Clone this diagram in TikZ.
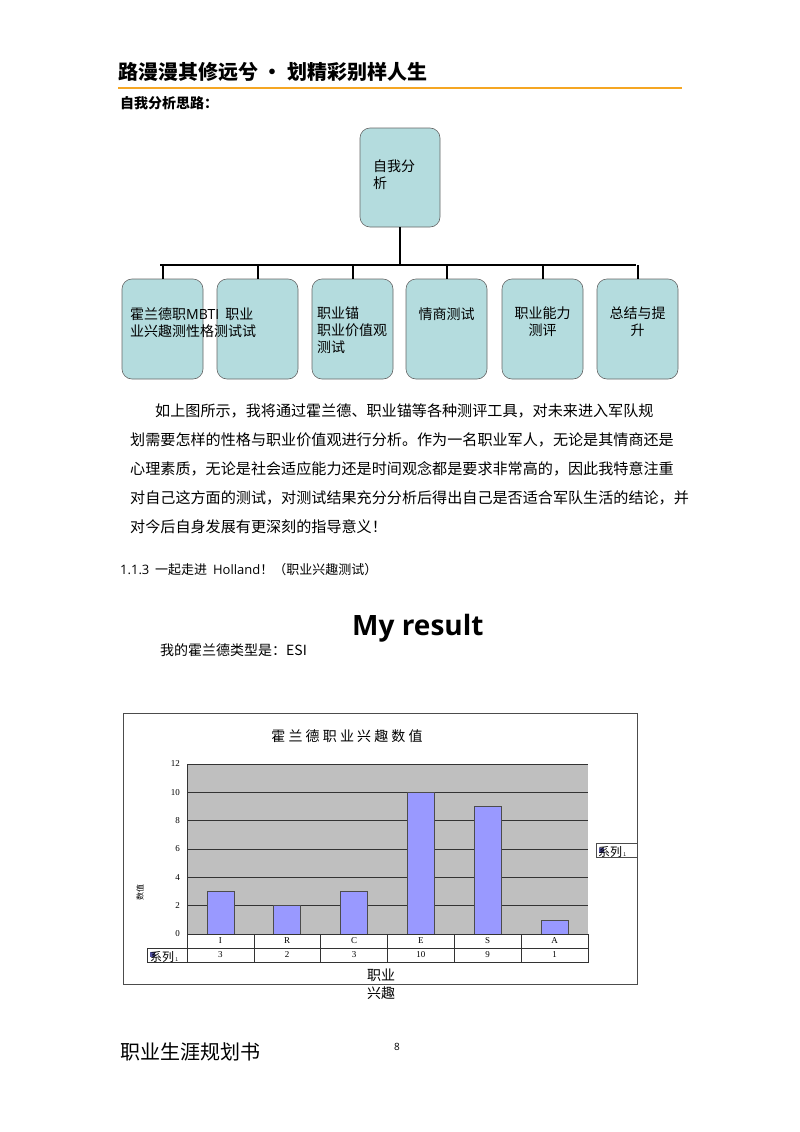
\documentclass[tikz,border=0pt]{standalone}
\usepackage{fontspec}
\setmainfont{Noto Sans CJK SC}
\newfontfamily\serifnum{Liberation Serif}
\newfontfamily\latin{Open Sans}
\definecolor{boxfill}{RGB}{180,220,222}
\definecolor{barfill}{RGB}{153,153,255}
\definecolor{orng}{RGB}{245,166,35}
\definecolor{lgsq}{RGB}{80,80,160}
\begin{document}
\begin{tikzpicture}[x=1pt,y=-1pt,
 box/.style={draw=gray!80!black,fill=boxfill,rounded corners=10pt,line width=0.6pt},
 tl/.style={anchor=west,inner sep=0,font=\fontsize{15.1}{15.1}\selectfont},
 bar/.style={draw=black!70,fill=barfill,line width=0.5pt},
 tick/.style={anchor=east,inner sep=0,font=\serifnum\fontsize{9}{9}\selectfont},
 cell/.style={inner sep=0,font=\serifnum\fontsize{9}{9}\selectfont}]
\useasboundingbox (0,0) rectangle (800,1132);
\fill[white] (0,0) rectangle (800,1132);
% header
\node[anchor=west,inner sep=0,font=\bfseries\fontsize{20}{20}\selectfont] (hd) at (118,72) {路漫漫其修远兮 · 划精彩别样人生};
\draw[line width=2pt,color=orng] (118,88) -- (682,88);
\node[anchor=west,inner sep=0,font=\bfseries\fontsize{14}{14}\selectfont] (sub) at (120,103) {自我分析思路：};
% tree
\node[box,minimum width=80pt,minimum height=99pt] (root) at (400,177.5) {};
\node[anchor=north west,inner sep=0,align=left,font=\fontsize{14}{17}\selectfont] (rt) at (373,160) {自我分\\析};
\coordinate (j) at (400,265);
\draw[line width=2pt] (160,265) -- (636,265);
\draw[line width=2pt] (root.south) -- (j);
\foreach \n/\x in {c1/162.5,c2/257.5,c3/352.5,c4/446.5,c5/542.5,c6/637.5}{
 \node[box,minimum width=81pt,minimum height=100pt] (\n) at (\x,329) {};
 \coordinate (\n t) at (\x,265);
 \draw[line width=2pt] (\n t) -- (\n.north);
}
\node[anchor=north west,inner sep=0,align=left,font=\fontsize{14}{17}\selectfont] (t1) at (130,307) {霍兰德职{\latin MBTI}\ \ 职业\\业兴趣测性格测试试};
\node[anchor=north west,inner sep=0,align=left,font=\fontsize{14}{17}\selectfont] (t3) at (317,307) {职业锚\\职业价值观\\测试};
\node[anchor=north,inner sep=0,font=\fontsize{14}{17}\selectfont] (t4) at (446.5,307) {情商测试};
\node[anchor=north,inner sep=0,align=center,font=\fontsize{14}{17}\selectfont] (t5) at (542.5,307) {职业能力\\测评};
\node[anchor=north,inner sep=0,align=center,font=\fontsize{14}{17}\selectfont] (t6) at (637.5,307) {总结与提\\升};
% paragraph
\node[tl] (p1) at (155,411) {如上图所示，我将通过霍兰德、职业锚等各种测评工具，对未来进入军队规};
\node[tl] (p2) at (130,440) {划需要怎样的性格与职业价值观进行分析。作为一名职业军人，无论是其情商还是};
\node[tl] (p3) at (130,469) {心理素质，无论是社会适应能力还是时间观念都是要求非常高的，因此我特意注重};
\node[tl] (p4) at (130,498) {对自己这方面的测试，对测试结果充分分析后得出自己是否适合军队生活的结论，并};
\node[tl] (p5) at (130,527) {对今后自身发展有更深刻的指导意义！};
\node[anchor=west,inner sep=0,font=\fontsize{13}{13}\selectfont] (sec) at (120,570) {{\latin 1.1.3}\ \ 一起走进\ \ {\latin Holland}！（职业兴趣测试）};
\node[anchor=west,inner sep=0,font=\latin\bfseries\fontsize{28}{28}\selectfont] (my) at (352,628) {My result};
\node[anchor=west,inner sep=0,font=\fontsize{14}{14}\selectfont] (typ) at (160,650) {我的霍兰德类型是：ESI};
% chart
\draw[line width=0.8pt,black!70] (123,713) rectangle (637,984);
\node[inner sep=0,font=\fontsize{14}{14}\selectfont] (ct) at (347,736) {霍\ 兰\ 德\ 职\ 业\ 兴\ 趣\ 数\ 值};
\fill[gray!50] (187,764) rectangle (588,934);
\foreach \v in {0,2,...,12}{
 \draw[black!80,line width=0.6pt] (187,934-14.167*\v) -- (588,934-14.167*\v);
 \node[tick] at (180,934-14.167*\v) {\v};
}
\draw[black!80] (187,764) -- (187,934);
\foreach \i/\v/\c in {0/3/I,1/2/R,2/3/C,3/10/E,4/9/S,5/1/A}{
 \pgfmathsetmacro{\xc}{187+66.83*\i+33.4}
 \draw[bar] (\xc-13.5,934) rectangle (\xc+13.5,934-14.167*\v);
 \node[cell] at (\xc,941) {\c};
 \node[cell] at (\xc,955) {\v};
}
\draw[black!80,line width=0.6pt] (187,934) rectangle (588,962);
\draw[black!80,line width=0.6pt] (147,948) -- (588,948) (147,948) -- (147,962) -- (187,962);
\foreach \i in {1,...,5}{\draw[black!80,line width=0.6pt] (187+66.83*\i,934) -- (187+66.83*\i,962);}
\fill[lgsq] (150,952) rectangle (155,957);
\node[anchor=west,inner sep=0,font=\fontsize{12}{12}\selectfont] (lg1) at (150,957) {系列{\tiny\ 1}};
\node[rotate=90,inner sep=0,font=\fontsize{8}{8}\selectfont] (yl) at (140,892) {数值};
\draw[black!70] (596,843) rectangle (637,857);
\fill[lgsq] (599,848) rectangle (604,853);
\node[anchor=west,inner sep=0,font=\fontsize{12}{12}\selectfont] (lg2) at (598,852) {系列{\tiny\ 1}};
\node[inner sep=0,align=center,font=\fontsize{14}{18}\selectfont] (xl) at (381,984) {职业\\兴趣};
% footer
\node[anchor=west,inner sep=0,font=\fontsize{20}{20}\selectfont] (ft) at (120,1052) {职业生涯规划书};
\node[inner sep=0,font=\latin\fontsize{10}{10}\selectfont] (pg) at (397,1047) {8};
\end{tikzpicture}
\end{document}
